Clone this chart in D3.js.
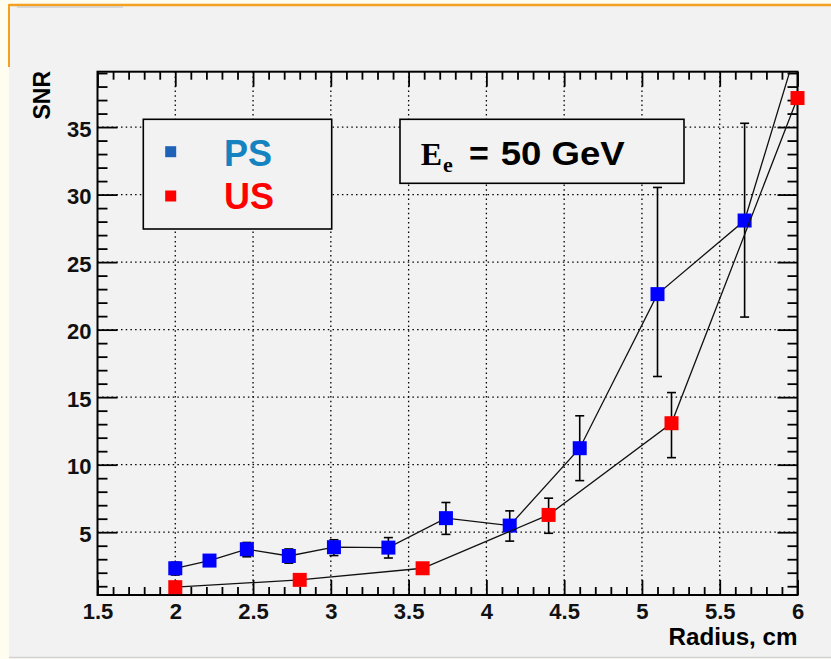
<!DOCTYPE html>
<html>
<head>
<meta charset="utf-8">
<script src="https://cdn.jsdelivr.net/npm/d3@7"></script>
<style>
  body { margin: 0; background: #fffdf0; }
  svg { display: block; font-family: "Liberation Sans", Arial, sans-serif; }
  .tick text { font-weight: bold; font-size: 22px; fill: #111; }
</style>
</head>
<body>
<div id="chart"></div>
<script>

// PS series (blue)
var psRadius = [2.0, 2.22, 2.46, 2.73, 3.02, 3.37, 3.74, 4.15, 4.6, 5.1, 5.66, 6.0];
var psSNR = [2.33, 2.9, 3.74, 3.24, 3.89, 3.86, 6.04, 5.49, 11.22, 22.63, 28.08, 41.0];
var psErrLow = [0.5, 0.3, 0.56, 0.53, 0.62, 0.77, 1.2, 1.15, 2.4, 6.1, 7.15, 0];
var psErrHigh = [0.45, 0.3, 0.5, 0.52, 0.55, 0.74, 1.16, 1.09, 2.4, 7.9, 7.2, 0];

// US series (red)
var usRadius = [2.0, 2.8, 3.59, 4.4, 5.19, 6.0];
var usSNR = [0.93, 1.47, 2.33, 6.28, 13.07, 37.15];
var usErrLow = [0.2, 0.2, 0.2, 1.36, 2.55, 0.3];
var usErrHigh = [0.2, 0.2, 0.2, 1.24, 2.27, 0.3];

var xMajor = [1.5, 2, 2.5, 3, 3.5, 4, 4.5, 5, 5.5, 6];
var yMajor = [5, 10, 15, 20, 25, 30, 35];

var svgWidth = 831;
var svgHeight = 659;

var frame = { left: 97.5, top: 71.7, right: 797.5, bottom: 595 };

var svg = d3.select("#chart")
  .append("svg")
  .attr("width", svgWidth)
  .attr("height", svgHeight);

// slide background
svg.append("rect")
  .attr("x", 9).attr("y", 6)
  .attr("width", svgWidth - 9).attr("height", 651)
  .attr("fill", "#f2f2f2");
svg.append("line")
  .attr("x1", 9).attr("x2", svgWidth).attr("y1", 5).attr("y2", 5)
  .attr("stroke", "#f4a020").attr("stroke-width", 2.5);
svg.append("line")
  .attr("x1", 9).attr("x2", 9).attr("y1", 4).attr("y2", 67)
  .attr("stroke", "#f4a020").attr("stroke-width", 2);
svg.append("line")
  .attr("x1", 17).attr("x2", 123).attr("y1", 7).attr("y2", 7)
  .attr("stroke", "#cfcfcf").attr("stroke-width", 1.5);
svg.append("line")
  .attr("x1", 9).attr("x2", svgWidth).attr("y1", 657.5).attr("y2", 657.5)
  .attr("stroke", "#d2d2d2").attr("stroke-width", 1.5);

// Scales
var x = d3.scaleLinear().domain([1.5, 6]).range([frame.left, frame.right]);
var y = d3.scaleLinear().domain([0.35, 39.1]).range([frame.bottom, frame.top]);

var xMinor = d3.range(15, 61).map(d => d / 10).filter(d => xMajor.indexOf(d) < 0);
var yMinor = d3.range(1, 40).filter(d => yMajor.indexOf(d) < 0);

// Grid (dotted, major only)
var grid = svg.append("g").attr("stroke", "#000").attr("stroke-width", 1.3)
  .attr("stroke-dasharray", "1.5,3.2");
grid.selectAll(".gx").data(xMajor.slice(1, -1)).enter().append("line")
  .attr("x1", d => x(d)).attr("x2", d => x(d))
  .attr("y1", frame.top).attr("y2", frame.bottom);
grid.selectAll(".gy").data(yMajor).enter().append("line")
  .attr("x1", frame.left).attr("x2", frame.right)
  .attr("y1", d => y(d)).attr("y2", d => y(d));

// Axes with inward ticks (ROOT style, mirrored on top/right)
function styleAxis(g) {
  g.select(".domain").remove();
  g.selectAll(".tick line").attr("stroke", "#000").attr("stroke-width", 1.8);
}

svg.append("g")
  .attr("transform", `translate(0, ${frame.bottom})`)
  .call(d3.axisBottom(x).tickValues(xMajor).tickSizeInner(-15).tickSizeOuter(0)
    .tickPadding(8).tickFormat(d3.format("")))
  .call(styleAxis);
svg.append("g")
  .attr("transform", `translate(0, ${frame.bottom})`)
  .call(d3.axisBottom(x).tickValues(xMinor).tickSizeInner(-8).tickSizeOuter(0).tickFormat(""))
  .call(styleAxis);
svg.append("g")
  .attr("transform", `translate(0, ${frame.top})`)
  .call(d3.axisTop(x).tickValues(xMajor).tickSizeInner(-15).tickSizeOuter(0).tickFormat(""))
  .call(styleAxis);
svg.append("g")
  .attr("transform", `translate(0, ${frame.top})`)
  .call(d3.axisTop(x).tickValues(xMinor).tickSizeInner(-8).tickSizeOuter(0).tickFormat(""))
  .call(styleAxis);

var leftAxis = svg.append("g")
  .attr("transform", `translate(${frame.left}, 0)`)
  .call(d3.axisLeft(y).tickValues(yMajor).tickSizeInner(-20).tickSizeOuter(0)
    .tickPadding(6).tickFormat(d3.format("")))
  .call(styleAxis);
leftAxis.selectAll(".tick text").attr("dy", "0.42em");
svg.append("g")
  .attr("transform", `translate(${frame.left}, 0)`)
  .call(d3.axisLeft(y).tickValues(yMinor).tickSizeInner(-10).tickSizeOuter(0).tickFormat(""))
  .call(styleAxis);
svg.append("g")
  .attr("transform", `translate(${frame.right}, 0)`)
  .call(d3.axisRight(y).tickValues(yMajor).tickSizeInner(-20).tickSizeOuter(0).tickFormat(""))
  .call(styleAxis);
svg.append("g")
  .attr("transform", `translate(${frame.right}, 0)`)
  .call(d3.axisRight(y).tickValues(yMinor).tickSizeInner(-10).tickSizeOuter(0).tickFormat(""))
  .call(styleAxis);

// Frame
svg.append("rect")
  .attr("x", frame.left).attr("y", frame.top)
  .attr("width", frame.right - frame.left).attr("height", frame.bottom - frame.top)
  .attr("fill", "none").attr("stroke", "#000").attr("stroke-width", 2);

// Axis titles
svg.append("text")
  .attr("x", frame.right).attr("y", 645)
  .attr("text-anchor", "end")
  .attr("font-size", 23).attr("font-weight", "bold")
  .attr("textLength", 129).attr("lengthAdjust", "spacingAndGlyphs")
  .text("Radius, cm");
svg.append("text")
  .attr("transform", "translate(50, 71) rotate(-90)")
  .attr("text-anchor", "end")
  .attr("font-size", 23).attr("font-weight", "bold")
  .text("SNR");

// Clip for lines
svg.append("clipPath").attr("id", "clip")
  .append("rect")
  .attr("x", frame.left).attr("y", frame.top)
  .attr("width", frame.right - frame.left).attr("height", frame.bottom - frame.top);

function series(xs, ys, lo, hi, color) {
  var pts = xs.map((d, i) => ({ x: d, y: ys[i], lo: lo[i], hi: hi[i] }));
  var g = svg.append("g");

  g.append("path")
    .datum(pts)
    .attr("clip-path", "url(#clip)")
    .attr("fill", "none").attr("stroke", "#111").attr("stroke-width", 1.3)
    .attr("d", d3.line().x(d => x(d.x)).y(d => y(d.y)));

  var inside = pts.filter(d => d.y < y.domain()[1]);

  var eb = g.selectAll(".err").data(inside.filter(d => d.lo + d.hi > 0)).enter().append("g")
    .attr("stroke", "#000").attr("stroke-width", 1.6);
  eb.append("line")
    .attr("x1", d => x(d.x)).attr("x2", d => x(d.x))
    .attr("y1", d => y(d.y - d.lo)).attr("y2", d => y(d.y + d.hi));
  eb.append("line")
    .attr("x1", d => x(d.x) - 4.5).attr("x2", d => x(d.x) + 4.5)
    .attr("y1", d => y(d.y - d.lo)).attr("y2", d => y(d.y - d.lo));
  eb.append("line")
    .attr("x1", d => x(d.x) - 4.5).attr("x2", d => x(d.x) + 4.5)
    .attr("y1", d => y(d.y + d.hi)).attr("y2", d => y(d.y + d.hi));

  g.selectAll(".mk").data(inside).enter().append("rect")
    .attr("x", d => x(d.x) - 7).attr("y", d => y(d.y) - 7)
    .attr("width", 14).attr("height", 14)
    .attr("fill", color);
}

series(psRadius, psSNR, psErrLow, psErrHigh, "#0000ff");
series(usRadius, usSNR, usErrLow, usErrHigh, "#ff0000");

// Legend
var legend = svg.append("g");
legend.append("rect")
  .attr("x", 143.3).attr("y", 119.3).attr("width", 188.4).attr("height", 109.7)
  .attr("fill", "#f2f2f2").attr("stroke", "#000").attr("stroke-width", 1.6);
legend.append("rect")
  .attr("x", 165.2).attr("y", 146.2).attr("width", 11).attr("height", 11)
  .attr("fill", "#1f63b8");
legend.append("rect")
  .attr("x", 165.2).attr("y", 190.5).attr("width", 11).attr("height", 11)
  .attr("fill", "#ff0000");
legend.append("text")
  .attr("x", 224).attr("y", 166)
  .attr("font-size", 36).attr("font-weight", "bold").attr("fill", "#1583bf")
  .text("PS");
legend.append("text")
  .attr("x", 224).attr("y", 209.3)
  .attr("font-size", 36).attr("font-weight", "bold").attr("fill", "#ff0000")
  .text("US");

// Energy label
var label = svg.append("g");
label.append("rect")
  .attr("x", 400).attr("y", 119.3).attr("width", 284).attr("height", 64)
  .attr("fill", "#f2f2f2").attr("stroke", "#000").attr("stroke-width", 1.6);
label.append("text")
  .attr("x", 420.7).attr("y", 165)
  .attr("font-family", "'Liberation Serif', 'DejaVu Serif', serif")
  .attr("font-size", 32).attr("font-weight", "bold")
  .text("E");
label.append("text")
  .attr("x", 443).attr("y", 171.7)
  .attr("font-family", "'Liberation Serif', 'DejaVu Serif', serif")
  .attr("font-size", 22).attr("font-weight", "bold")
  .text("e");
label.append("text")
  .attr("x", 469).attr("y", 165)
  .attr("font-size", 34).attr("font-weight", "bold")
  .text("=");
label.append("text")
  .attr("x", 500.7).attr("y", 165)
  .attr("font-size", 34).attr("font-weight", "bold")
  .attr("textLength", 124).attr("lengthAdjust", "spacingAndGlyphs")
  .text("50 GeV");

</script>
</body>
</html>
